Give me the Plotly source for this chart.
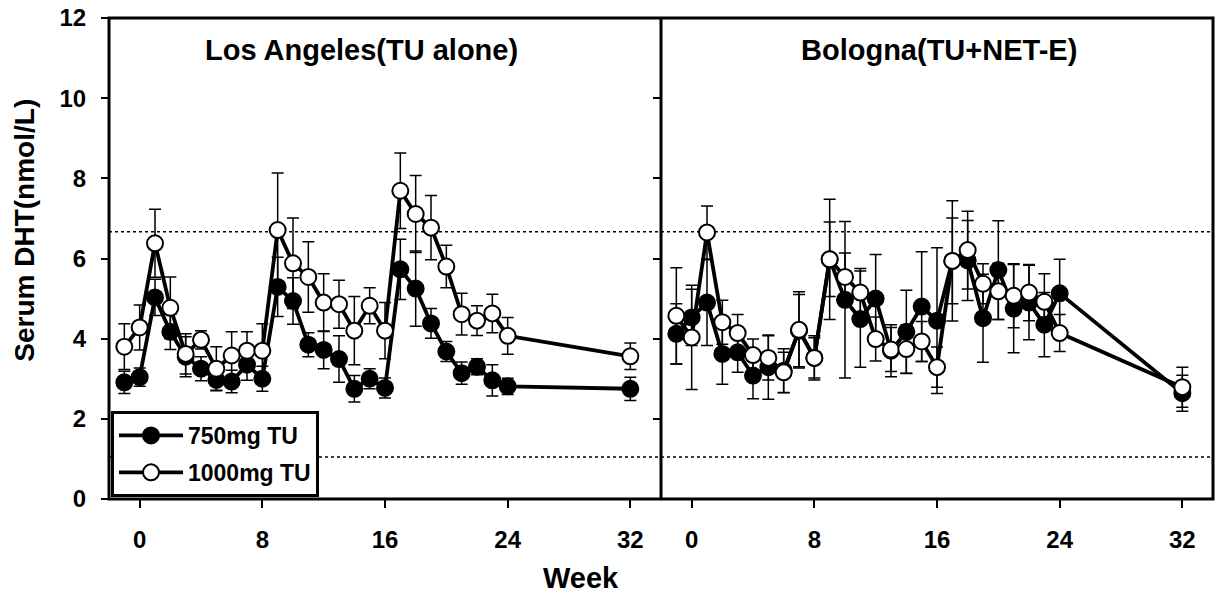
import plotly.graph_objects as go

# ---------------- data ----------------
weeks = [-1, 0, 1, 2, 3, 4, 5, 6, 7, 8, 9, 10, 11, 12, 13, 14, 15, 16,
         17, 18, 19, 20, 21, 22, 23, 24, 32]

la_750 = [2.91, 3.04, 5.03, 4.17, 3.55, 3.25, 2.97, 2.93, 3.35, 3.00, 5.29, 4.94, 3.85, 3.72,
          3.49, 2.75, 3.00, 2.77, 5.73, 5.25, 4.38, 3.68, 3.14, 3.30, 2.96, 2.81, 2.75]
la_750_err = [0.28, 0.23, 0.45, 0.44, 0.50, 0.30, 0.26, 0.28, 0.39, 0.31, 0.74, 0.58, 0.30, 0.47,
              0.58, 0.33, 0.25, 0.25, 0.75, 0.94, 0.37, 0.25, 0.28, 0.20, 0.39, 0.20, 0.29]
la_1000 = [3.80, 4.28, 6.38, 4.77, 3.62, 3.97, 3.25, 3.58, 3.70, 3.70, 6.71, 5.88, 5.54, 4.90,
           4.86, 4.20, 4.82, 4.20, 7.69, 7.11, 6.77, 5.80, 4.61, 4.45, 4.63, 4.07, 3.56]
la_1000_err = [0.57, 0.56, 0.85, 0.77, 0.50, 0.23, 0.55, 0.59, 0.47, 0.67, 1.42, 1.13, 0.88, 0.72,
               0.60, 0.85, 0.45, 0.70, 0.94, 0.96, 0.80, 0.53, 0.52, 0.37, 0.48, 0.46, 0.33]

bo_750 = [4.12, 4.53, 4.90, 3.62, 3.66, 3.08, 3.29, 3.20, 4.20, 3.52, 5.98, 4.97, 4.49, 5.00,
          3.70, 4.17, 4.80, 4.45, 5.94, 5.95, 4.51, 5.71, 4.75, 4.90, 4.35, 5.13, 2.64]
bo_750_err = [0.75, 0.70, 1.07, 0.76, 0.50, 0.58, 0.80, 0.55, 0.90, 0.50, 0.93, 1.95, 1.20, 1.10,
              0.65, 1.04, 1.37, 1.82, 1.50, 1.00, 1.10, 1.23, 1.10, 0.93, 0.80, 0.85, 0.45]
bo_1000 = [4.57, 4.03, 6.65, 4.41, 4.14, 3.59, 3.52, 3.16, 4.22, 3.52, 5.98, 5.54, 5.15, 3.99,
           3.73, 3.74, 3.93, 3.29, 5.94, 6.21, 5.37, 5.18, 5.07, 5.15, 4.92, 4.14, 2.79]
bo_1000_err = [1.20, 1.30, 0.66, 0.55, 0.46, 0.40, 0.55, 0.50, 0.95, 0.55, 1.50, 0.60, 0.60, 0.55,
               0.55, 0.60, 0.50, 0.50, 1.07, 0.97, 0.50, 0.70, 0.80, 0.70, 0.70, 0.46, 0.50]

ref_lines = [6.67, 1.05]
x_ticks = [0, 8, 16, 24, 32]
y_ticks = [0, 2, 4, 6, 8, 10, 12]
panel_titles = ["Los Angeles(TU alone)", "Bologna(TU+NET-E)"]
series_names = ["750mg TU", "1000mg TU"]

# ---------------- figure ----------------
W, H = 1217, 598
ML, MR, MT, MB = 109, 4, 15, 99
PW, PH = W - ML - MR, H - MT - MB

def px_x(p):
    return (p - ML) / PW

def px_y(p):
    return (H - MB - p) / PH

FONT = "Arial, Liberation Sans, Helvetica, sans-serif"

fig = go.Figure()

def add_series(x, y, err, xa, ya, filled, name, show):
    fig.add_trace(go.Scatter(
        x=x, y=y, xaxis=xa, yaxis=ya, name=name, showlegend=show,
        legendgroup=name, mode="lines+markers",
        line=dict(color="black", width=3.8),
        marker=dict(symbol="circle", size=16,
                    color="black" if filled else "white",
                    line=dict(color="black", width=2)),
        error_y=dict(type="data", array=err, visible=True,
                     color="black", thickness=1.5, width=6),
    ))

add_series(weeks, la_750, la_750_err, "x", "y", True, series_names[0], True)
add_series(weeks, la_1000, la_1000_err, "x", "y", False, series_names[1], True)
add_series(weeks, bo_750, bo_750_err, "x2", "y2", True, series_names[0], False)
add_series(weeks, bo_1000, bo_1000_err, "x2", "y2", False, series_names[1], False)

tickfont = dict(family=FONT, size=24, color="black", weight="bold")

xcommon = dict(range=[-2, 34], tickvals=x_ticks, ticks="outside", ticklen=8,
               tickwidth=1.5, tickcolor="black", showgrid=False, zeroline=False,
               showline=False, tickfont=tickfont, ticklabelstandoff=11)
ycommon = dict(range=[0, 12], tickvals=y_ticks, ticks="outside", ticklen=7,
               tickwidth=1.5, tickcolor="black", showgrid=False, zeroline=False,
               showline=False, tickfont=tickfont)

fig.update_layout(
    width=W, height=H,
    margin=dict(l=ML, r=MR, t=MT, b=MB, pad=0),
    paper_bgcolor="white", plot_bgcolor="white",
    font=dict(family=FONT, color="black"),
    xaxis=dict(domain=[0, 0.5], anchor="y", **xcommon),
    xaxis2=dict(domain=[0.5, 1], anchor="y2", **xcommon),
    yaxis=dict(domain=[0, 1], anchor="x", ticklabelstandoff=10, **ycommon),
    yaxis2=dict(domain=[0, 1], anchor="x2", showticklabels=False, **ycommon),
    legend=dict(x=px_x(111), y=px_y(497), xanchor="left", yanchor="bottom",
                bgcolor="white", bordercolor="black", borderwidth=3,
                font=dict(family=FONT, size=23, color="black", weight="bold"),
                itemsizing="trace", tracegroupgap=4, itemwidth=64,
                entrywidth=140, entrywidthmode="pixels"),
    showlegend=True,
)

shapes = []
# reference dotted lines across both panels
for v in ref_lines:
    for xr in ("x domain", "x2 domain"):
        shapes.append(dict(type="line", xref=xr, yref="y", x0=0, x1=1, y0=v, y1=v,
                           line=dict(color="black", width=1.5, dash="dot"), layer="below"))
# frame and divider
shapes.append(dict(type="rect", xref="paper", yref="paper", x0=0, x1=1, y0=0, y1=1,
                   line=dict(color="black", width=3)))
shapes.append(dict(type="line", xref="paper", yref="paper", x0=0.5, x1=0.5, y0=0, y1=1,
                   line=dict(color="black", width=3)))
fig.update_layout(shapes=shapes)

title_font = dict(family=FONT, size=29, color="black", weight="bold")
annotations = [
    dict(text=panel_titles[0], x=px_x(361), y=px_y(47), xref="paper", yref="paper",
         showarrow=False, xanchor="center", yanchor="middle", font=title_font),
    dict(text=panel_titles[1], x=px_x(939), y=px_y(47), xref="paper", yref="paper",
         showarrow=False, xanchor="center", yanchor="middle", font=title_font),
    dict(text="Week", x=px_x(581), y=px_y(578), xref="paper", yref="paper",
         showarrow=False, xanchor="center", yanchor="middle", font=title_font),
    dict(text="Serum DHT(nmol/L)", x=px_x(25), y=px_y(229), xref="paper", yref="paper",
         showarrow=False, xanchor="center", yanchor="middle", textangle=-90,
         font=dict(family=FONT, size=28, color="black", weight="bold")),
]
fig.update_layout(annotations=annotations)

fig.write_html("out.html")
